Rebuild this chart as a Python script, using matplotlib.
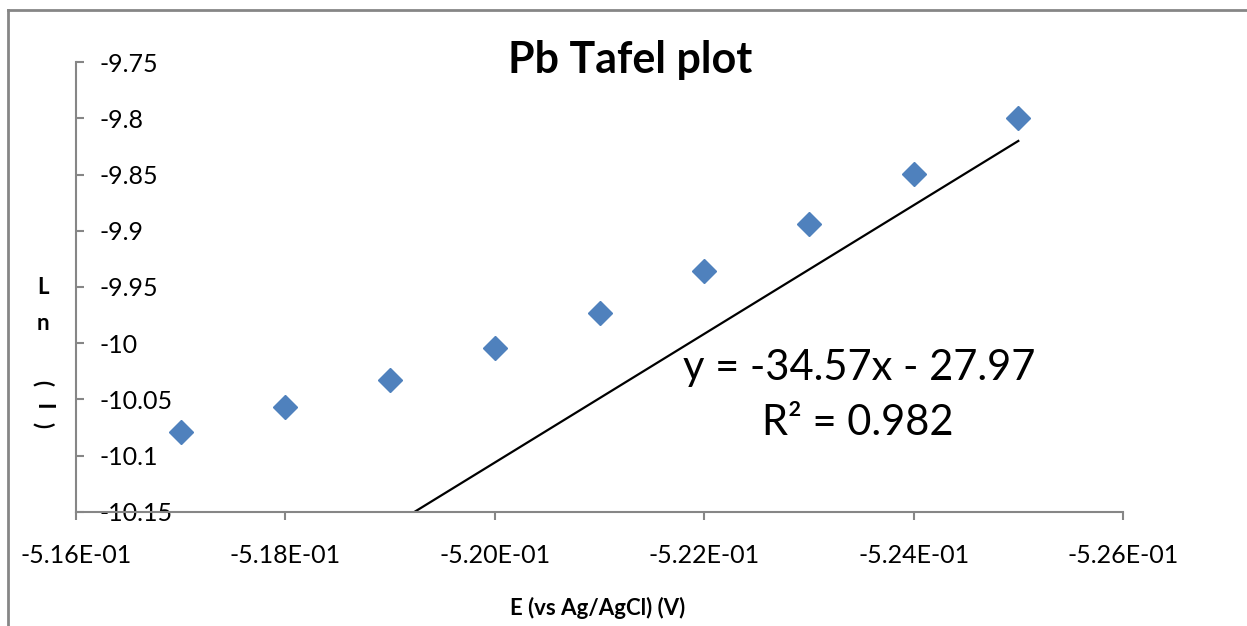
import matplotlib
matplotlib.use("Agg")
import matplotlib.pyplot as plt
from matplotlib.lines import Line2D
import numpy as np

# Data
potential_V = [-0.517, -0.518, -0.519, -0.520, -0.521, -0.522, -0.523, -0.524, -0.525]
ln_current = [-10.079, -10.057, -10.033, -10.004, -9.973, -9.936, -9.894, -9.849, -9.800]
trend_x = [-0.517, -0.525]
trend_y = [-10.278, -9.820]
x_ticks = [-0.516, -0.518, -0.520, -0.522, -0.524, -0.526]
y_ticks = [-9.75, -9.8, -9.85, -9.9, -9.95, -10, -10.05, -10.1, -10.15]
y_tick_labels = ["-9.75", "-9.8", "-9.85", "-9.9", "-9.95", "-10", "-10.05", "-10.1", "-10.15"]
title = "Pb Tafel plot"
x_label = "E (vs Ag/AgCl) (V)"
y_label_upright = ["L", "n"]
y_label_rotated = ["(", "I", ")"]
eq_line = "y = -34.57x - 27.97"
r2_line = "R² = 0.982"

plt.rcParams['font.family'] = ['Lato', 'DejaVu Sans']

W, H = 1247, 626
fig = plt.figure(figsize=(W / 100, H / 100), dpi=100)
ax = fig.add_axes([76 / W, 1 - 511.7 / H, (1123 - 76) / W, (511.7 - 62.3) / H])

grey = "#868686"
ax.plot(potential_V, ln_current, linestyle="none", marker="D", markersize=12,
        color="#4F81BD", markeredgecolor="#4F81BD", zorder=3)
ax.plot(trend_x, trend_y, color="black", linewidth=1.6, zorder=2)

ax.set_xlim(-0.516, -0.526)
ax.set_ylim(-10.15, -9.75)
ax.set_xticks(x_ticks)
ax.set_xticklabels([f"{v:.2E}" for v in x_ticks], fontsize=18)
ax.set_yticks(y_ticks)
ax.set_yticklabels(y_tick_labels, fontsize=18)
for lbl in ax.get_yticklabels():
    lbl.set_horizontalalignment("left")

for s in ["top", "right"]:
    ax.spines[s].set_visible(False)
for s in ["left", "bottom"]:
    ax.spines[s].set_color(grey)
    ax.spines[s].set_linewidth(1.5)

ax.tick_params(axis="x", direction="out", length=6, width=1.5, color=grey, pad=17)
ax.tick_params(axis="y", direction="in", length=6, width=1.5, color=grey, pad=-17)

# Title
fig.text(630 / W, 1 - 60 / H, title, fontsize=31, fontweight="bold", ha="center", va="center")
# X label
fig.text(598 / W, 1 - 608 / H, x_label, fontsize=16, fontweight="bold", ha="center", va="center")
# Y label (stacked)
for ch, yp in zip(y_label_upright, [287, 323]):
    fig.text(43 / W, 1 - yp / H, ch, fontsize=16, fontweight="bold", ha="center", va="center")
for ch, yp in zip(y_label_rotated, [383, 406, 425]):
    fig.text(43 / W, 1 - yp / H, ch, fontsize=16, fontweight="bold", ha="center", va="center",
             rotation=-90)
# Equation
fig.text(859 / W, 1 - 368 / H, eq_line, fontsize=30, ha="center", va="center")
fig.text(858 / W, 1 - 423 / H, r2_line, fontsize=30, ha="center", va="center")

# Chart border (partial)
fig.add_artist(Line2D([7.5 / W, 1], [1 - 9.5 / H, 1 - 9.5 / H], color=grey, linewidth=2))
fig.add_artist(Line2D([7.5 / W, 7.5 / W], [0, 1 - 9.5 / H], color=grey, linewidth=2))

fig.savefig("out.png", dpi=100, facecolor="white")
